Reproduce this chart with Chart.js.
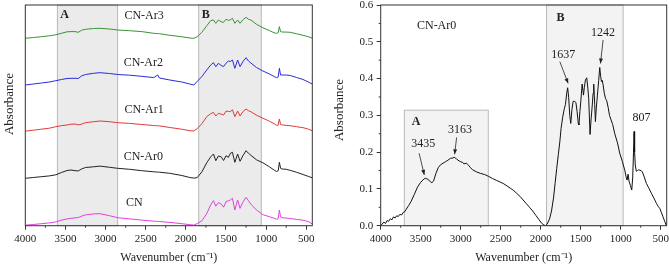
<!DOCTYPE html>
<html>
<head>
<meta charset="utf-8">
<script src="https://cdn.jsdelivr.net/npm/chart.js@4.4.1/dist/chart.umd.min.js"></script>
<style>
html, body { margin: 0; padding: 0; background: #fff; }
#wrap { position: relative; width: 669px; height: 267px; }
#left { position: absolute; left: 0; top: 0; }
#right { position: absolute; left: 334px; top: 0; }
</style>
</head>
<body>
<div id="wrap">
  <canvas id="left" width="334" height="267"></canvas>
  <canvas id="right" width="335" height="267"></canvas>
</div>
<script>
// ---- left panel: stacked spectra (offset units, no y ticks) ----
const leftWavenumbers = [4000, 3900, 3800, 3700, 3620, 3550, 3480, 3430, 3380, 3340,
  3300, 3250, 3150, 3070, 2950, 2850, 2700, 2550, 2400, 2370,
  2350, 2330, 2200, 2050, 1950, 1900, 1860, 1800, 1740, 1690,
  1656, 1627, 1595, 1560, 1530, 1500, 1470, 1445, 1420, 1390,
  1355, 1325, 1290, 1250, 1220, 1190, 1120, 1040, 960, 900,
  870, 850, 835, 820, 800, 750, 700, 620, 540, 470,
  420];
const cnValues = [.005,.012,.020,.028,.038,.055,.068,.074,.078,.082,
  .095,.108,.118,.120,.100,.080,.068,.056,.045,.044,
  .043,.042,.033,.020,.010,.006,.020,.050,.120,.210,
  .250,.195,.230,.217,.185,.240,.250,.257,.274,.157,
  .257,.174,.235,.284,.250,.215,.157,.110,.090,.075,
  .064,.070,.157,.088,.080,.076,.072,.063,.055,.040,
  .015];
const ar0Values = [.474,.482,.490,.498,.509,.532,.552,.557,.550,.548,
  .567,.582,.589,.596,.584,.574,.564,.550,.539,.537,
  .536,.535,.524,.502,.482,.476,.480,.539,.629,.689,
  .717,.650,.697,.689,.652,.699,.684,.724,.734,.634,
  .717,.644,.699,.750,.724,.704,.659,.629,.589,.556,
  .542,.549,.634,.574,.567,.564,.554,.534,.512,.492,
  .477];
const ar1Values = [.945,.955,.965,.975,.990,1.000,1.007,1.015,1.017,1.008,
  1.015,1.030,1.040,1.047,1.040,1.030,1.023,1.012,1.002,1.000,
  .999,.998,.982,.965,.950,.947,.970,1.020,1.090,1.120,
  1.134,1.097,1.124,1.115,1.107,1.145,1.143,1.140,1.160,1.090,
  1.147,1.097,1.140,1.167,1.150,1.140,1.105,1.075,1.045,1.020,
  1.003,1.005,1.067,1.012,1.008,1.003,1.000,.990,.980,.965,
  .947];
const ar2Values = [1.407,1.417,1.427,1.437,1.450,1.462,1.472,1.474,1.474,1.472,
  1.497,1.512,1.524,1.530,1.522,1.512,1.505,1.494,1.481,1.497,
  1.507,1.477,1.457,1.437,1.417,1.407,1.442,1.492,1.557,1.607,
  1.630,1.590,1.624,1.602,1.592,1.624,1.647,1.642,1.657,1.574,
  1.657,1.590,1.640,1.680,1.647,1.627,1.582,1.547,1.517,1.492,
  1.480,1.487,1.574,1.507,1.507,1.507,1.502,1.482,1.462,1.435,
  1.414];
const ar3Values = [1.874,1.882,1.890,1.899,1.909,1.924,1.939,1.941,1.941,1.934,
  1.954,1.964,1.972,1.974,1.967,1.957,1.950,1.941,1.924,1.922,
  1.921,1.920,1.904,1.889,1.877,1.874,1.889,1.934,1.999,2.051,
  2.057,2.024,2.057,2.039,2.034,2.064,2.054,2.059,2.074,2.024,
  2.057,2.024,2.059,2.084,2.064,2.057,2.014,1.979,1.952,1.929,
  1.924,1.929,1.991,1.941,1.937,1.936,1.934,1.919,1.904,1.889,
  1.874];
const seriesNames = ['CN', 'CN-Ar0', 'CN-Ar1', 'CN-Ar2', 'CN-Ar3'];

// ---- right panel: CN-Ar0 spectrum ----
const rightWavenumbers = [4000,3960,3940,3920,3900,3880,3860,3840,3820,3800,
  3780,3760,3740,3720,3700,3680,3650,3620,3580,3540,
  3500,3460,3440,3410,3380,3360,3340,3310,3280,3250,
  3220,3190,3160,3130,3100,3080,3050,3020,3000,2975,
  2960,2930,2900,2880,2850,2800,2750,2700,2650,2600,
  2550,2500,2470,2420,2380,2340,2300,2260,2220,2180,
  2140,2100,2060,2020,1990,1960,1940,1920,1890,1865,
  1840,1820,1800,1780,1760,1745,1725,1705,1690,1675,
  1663,1650,1637,1624,1610,1595,1575,1560,1545,1530,
  1522,1510,1498,1482,1465,1455,1441,1424,1410,1400,
  1383,1370,1358,1345,1337,1325,1316,1305,1291,1275,
  1262,1250,1241,1230,1220,1205,1190,1175,1157,1140,
  1124,1100,1074,1040,1012,980,949,930,920,908,
  895,880,862,850,840,833,826,818,805,790,
  775,762,745,729,710,679,650,616,585,554,
  530,512,490,471,450,430];
const rightAbsorbance = [0.000,0.010,0.006,0.014,0.012,0.019,0.016,0.024,0.021,0.027,
  0.025,0.031,0.029,0.036,0.038,0.045,0.055,0.066,0.085,0.105,
  0.118,0.127,0.129,0.126,0.120,0.117,0.121,0.142,0.158,0.166,
  0.170,0.174,0.178,0.183,0.184,0.186,0.181,0.176,0.174,0.172,
  0.168,0.170,0.164,0.158,0.152,0.146,0.142,0.139,0.134,0.128,
  0.123,0.118,0.115,0.108,0.102,0.096,0.088,0.080,0.070,0.060,
  0.050,0.040,0.028,0.016,0.007,0.002,0.000,0.004,0.018,0.040,
  0.075,0.115,0.155,0.193,0.230,0.265,0.295,0.318,0.330,0.360,
  0.375,0.348,0.300,0.278,0.315,0.338,0.338,0.335,0.310,0.278,
  0.274,0.310,0.340,0.385,0.355,0.375,0.396,0.402,0.372,0.346,
  0.248,0.290,0.320,0.360,0.385,0.330,0.283,0.320,0.355,0.395,
  0.430,0.405,0.392,0.395,0.383,0.360,0.346,0.340,0.322,0.300,
  0.290,0.275,0.250,0.225,0.197,0.175,0.151,0.130,0.124,0.140,
  0.120,0.110,0.097,0.130,0.200,0.256,0.200,0.165,0.148,0.150,
  0.152,0.151,0.150,0.146,0.135,0.115,0.103,0.088,0.075,0.061,
  0.052,0.047,0.035,0.024,0.012,0.000];

// ticks
const xTickValues = [4000, 3500, 3000, 2500, 2000, 1500, 1000, 500];
const xMinorValues = [3750, 3250, 2750, 2250, 1750, 1250, 750];
const yTickValues = [0, 0.1, 0.2, 0.3, 0.4, 0.5, 0.6];
const yMinorValues = [0.05, 0.15, 0.25, 0.35, 0.45, 0.55];

// shaded regions (wavenumber ranges)
const leftRegionA = [3600, 2850];
const leftRegionB = [1840, 1060];
const rightRegionA = [3705, 2655, 0.314];
const rightRegionB = [1927, 970];

const peakLabels = ['3435', '3163', '1637', '1242', '807'];

Chart.defaults.font.family = '"Liberation Serif", "Times New Roman", serif';
Chart.defaults.color = '#222';

const pts = (xs, ys) => xs.map((x, i) => ({ x: x, y: ys[i] }));

function xScale() {
  return {
    type: 'linear', reverse: true, min: 425, max: 4000,
    afterBuildTicks: s => { s.ticks = xTickValues.map(v => ({ value: v })); },
    afterFit: s => { s.height = 41.3; s.paddingLeft = 0; s.paddingRight = 0; },
    grid: { drawOnChartArea: false, drawTicks: true, tickLength: 4, tickColor: '#333' },
    border: { display: false },
    ticks: { font: { size: 11 }, color: '#222', padding: 3, maxRotation: 0, autoSkip: false,
      callback: v => String(v) },
    title: { display: true, text: 'Wavenumber (cm\u207B\u00B9)', font: { size: 12 }, color: '#222',
      padding: { top: 0, bottom: 2 } }
  };
}

// boxes, frame, minor ticks, labels and arrows
function decor(o) {
  return {
    id: 'decor',
    beforeDatasetsDraw(chart) {
      const { ctx, chartArea: a, scales: { x, y } } = chart;
      ctx.save();
      o.regions.forEach(r => {
        const x1 = x.getPixelForValue(r[0]), x2 = x.getPixelForValue(r[1]);
        const top = r[2] == null ? a.top : y.getPixelForValue(r[2]);
        ctx.fillStyle = o.fill;
        ctx.fillRect(x1, top, x2 - x1, a.bottom - top);
        ctx.strokeStyle = '#b8b8b8';
        ctx.lineWidth = 1;
        ctx.strokeRect(x1, top, x2 - x1, a.bottom - top);
      });
      ctx.restore();
    },
    afterDraw(chart) {
      const { ctx, chartArea: a, scales: { x, y } } = chart;
      ctx.save();
      ctx.strokeStyle = '#333';
      ctx.lineWidth = 1;
      ctx.strokeRect(a.left, a.top, a.right - a.left, a.bottom - a.top);
      ctx.beginPath();
      xMinorValues.forEach(v => {
        const px = x.getPixelForValue(v);
        ctx.moveTo(px, a.bottom); ctx.lineTo(px, a.bottom + 2);
      });
      if (o.yMinor) {
        yMinorValues.forEach(v => {
          const py = y.getPixelForValue(v);
          ctx.moveTo(a.left, py); ctx.lineTo(a.left - 2, py);
        });
      }
      ctx.stroke();

      ctx.fillStyle = '#222';
      ctx.textAlign = 'center';
      ctx.textBaseline = 'middle';
      o.notes.forEach(n => {
        ctx.font = (n.bold ? 'bold ' : '') + '12px "Liberation Serif", serif';
        ctx.fillText(n.text, x.getPixelForValue(n.x), y.getPixelForValue(n.y));
        if (n.arrow) {
          const x1 = x.getPixelForValue(n.arrow[0]), y1 = y.getPixelForValue(n.arrow[1]);
          const x2 = x.getPixelForValue(n.arrow[2]), y2 = y.getPixelForValue(n.arrow[3]);
          ctx.strokeStyle = '#222';
          ctx.lineWidth = 0.8;
          ctx.beginPath(); ctx.moveTo(x1, y1); ctx.lineTo(x2, y2); ctx.stroke();
          const ang = Math.atan2(y2 - y1, x2 - x1);
          ctx.beginPath();
          ctx.moveTo(x2, y2);
          ctx.lineTo(x2 - 5 * Math.cos(ang) + 2 * Math.sin(ang), y2 - 5 * Math.sin(ang) - 2 * Math.cos(ang));
          ctx.lineTo(x2 - 5 * Math.cos(ang) - 2 * Math.sin(ang), y2 - 5 * Math.sin(ang) + 2 * Math.cos(ang));
          ctx.closePath(); ctx.fill();
        }
      });

      // y axis title
      ctx.font = '13px "Liberation Serif", serif';
      ctx.translate(o.yTitle[0], o.yTitle[1]);
      ctx.rotate(-Math.PI / 2);
      ctx.fillText('Absorbance', 0, 0);
      ctx.restore();
    }
  };
}

new Chart(document.getElementById('left'), {
  type: 'line',
  data: {
    datasets: [
      { label: seriesNames[0], data: pts(leftWavenumbers, cnValues), borderColor: '#e040e0' },
      { label: seriesNames[1], data: pts(leftWavenumbers, ar0Values), borderColor: '#222222' },
      { label: seriesNames[2], data: pts(leftWavenumbers, ar1Values), borderColor: '#e03a3a' },
      { label: seriesNames[3], data: pts(leftWavenumbers, ar2Values), borderColor: '#2b2bd9' },
      { label: seriesNames[4], data: pts(leftWavenumbers, ar3Values), borderColor: '#3a923a' }
    ]
  },
  options: {
    responsive: false,
    animation: false,
    layout: { padding: { top: 5, right: 21.7, left: 0, bottom: 0 } },
    elements: { point: { radius: 0 }, line: { borderWidth: 1, tension: 0 } },
    scales: {
      x: xScale(),
      y: {
        min: 0, max: 2.207,
        afterFit: s => { s.width = 25.3; s.paddingTop = 0; s.paddingBottom = 0; },
        grid: { display: false },
        border: { display: false },
        ticks: { display: false }
      }
    },
    plugins: { legend: { display: false }, tooltip: { enabled: false } }
  },
  plugins: [decor({
    fill: '#ebebeb',
    regions: [leftRegionA, leftRegionB],
    yMinor: false,
    yTitle: [10, 104],
    notes: [
      { text: 'A', x: 3510, y: 2.107, bold: true },
      { text: 'B', x: 1751, y: 2.107, bold: true },
      { text: seriesNames[4], x: 2520, y: 2.097 },
      { text: seriesNames[3], x: 2530, y: 1.630 },
      { text: seriesNames[2], x: 2520, y: 1.157 },
      { text: seriesNames[1], x: 2530, y: 0.690 },
      { text: seriesNames[0], x: 2641, y: 0.230 }
    ]
  })]
});

new Chart(document.getElementById('right'), {
  type: 'line',
  data: {
    datasets: [
      { label: 'CN-Ar0', data: pts(rightWavenumbers, rightAbsorbance), borderColor: '#111' }
    ]
  },
  options: {
    responsive: false,
    animation: false,
    layout: { padding: { top: 5, right: 2.3, left: 0, bottom: 0 } },
    elements: { point: { radius: 0 }, line: { borderWidth: 1, tension: 0 } },
    scales: {
      x: xScale(),
      y: {
        min: 0, max: 0.6,
        afterBuildTicks: s => { s.ticks = yTickValues.map(v => ({ value: v })); },
        afterFit: s => { s.width = 46.7; s.paddingTop = 0; s.paddingBottom = 0; },
        grid: { drawOnChartArea: false, drawTicks: true, tickLength: 4, tickColor: '#333' },
        border: { display: false },
        ticks: { font: { size: 11 }, color: '#222', padding: 3.5, callback: v => v.toFixed(1) }
      }
    },
    plugins: { legend: { display: false }, tooltip: { enabled: false } }
  },
  plugins: [decor({
    fill: '#f3f3f3',
    regions: [rightRegionA, rightRegionB],
    yMinor: true,
    yTitle: [6, 110],
    notes: [
      { text: 'CN-Ar0', x: 3301, y: 0.543 },
      { text: 'A', x: 3559, y: 0.283, bold: true },
      { text: 'B', x: 1752, y: 0.564, bold: true },
      { text: peakLabels[0], x: 3468, y: 0.222, arrow: [3520, 0.197, 3455, 0.138] },
      { text: peakLabels[1], x: 3010, y: 0.260, arrow: [3051, 0.240, 3076, 0.194] },
      { text: peakLabels[2], x: 1719, y: 0.464, arrow: [1761, 0.446, 1657, 0.387] },
      { text: peakLabels[3], x: 1220, y: 0.523, arrow: [1220, 0.505, 1253, 0.441] },
      { text: peakLabels[4], x: 740, y: 0.292 }
    ]
  })]
});
</script>
</body>
</html>
